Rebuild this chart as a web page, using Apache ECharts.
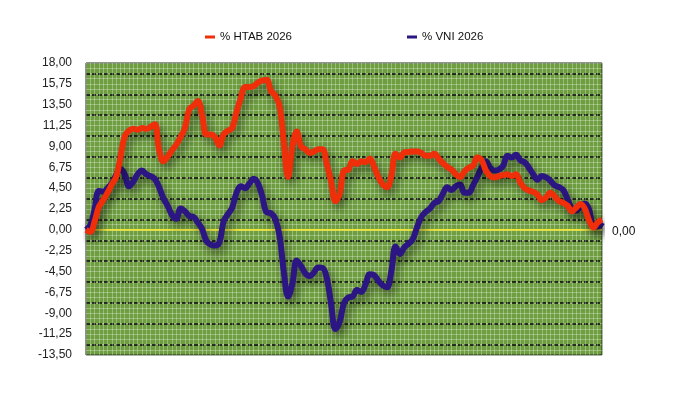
<!DOCTYPE html>
<html>
<head>
<meta charset="utf-8">
<script src="https://cdn.jsdelivr.net/npm/echarts@6/dist/echarts.min.js"></script>
<style>html,body{margin:0;padding:0;background:#fff}#c{width:690px;height:416px}</style>
</head>
<body>
<div id="c"></div>
<script>
const seriesNames = ['% HTAB 2026', '% VNI 2026'];
const htab = [0.0,-0.2,0.9,2.5,3.2,4.0,4.9,5.7,7.8,10.1,
  10.7,10.9,10.8,11.0,10.9,11.1,11.4,8.6,7.4,7.9,
  8.6,9.2,10.0,11.0,13.0,13.4,13.9,12.4,10.3,10.3,
  10.0,9.1,10.3,10.7,11.0,12.7,14.2,15.4,15.4,15.5,
  15.9,16.1,16.2,15.0,14.5,13.4,9.5,5.7,9.0,10.6,
  9.0,8.7,8.3,8.45,8.7,8.7,7.1,5.2,3.1,3.9,
  6.4,6.5,7.4,7.1,7.4,7.3,7.7,6.8,5.7,4.9,
  4.6,5.8,8.2,7.8,8.35,8.4,8.45,8.45,8.3,8.0,
  8.0,8.2,7.7,7.2,6.8,6.5,6.0,5.7,6.3,6.7,
  6.9,7.8,7.5,6.4,5.8,5.65,5.8,5.9,6.0,5.8,
  6.0,5.1,4.5,4.25,4.1,3.8,3.2,3.5,4.0,3.6,
  3.1,2.9,2.6,2.0,2.4,2.8,2.3,1.0,0.25,0.8,1.1];
const vni = [0.0,0.5,2.2,4.2,4.1,4.5,5.0,5.9,6.6,6.0,
  4.7,5.2,6.0,6.4,6.0,5.8,5.5,4.6,3.4,2.6,
  1.6,1.2,2.3,2.0,1.5,1.4,0.8,0.1,-1.2,-1.6,
  -1.7,-1.4,0.9,1.7,2.4,4.0,4.7,4.5,5.0,5.5,
  5.0,3.6,1.9,1.8,1.2,-0.6,-4.5,-7.2,-5.8,-3.3,
  -3.9,-4.7,-5.0,-4.6,-4.05,-4.1,-5.2,-8.0,-10.7,-9.9,
  -7.9,-7.3,-7.2,-6.5,-6.7,-5.9,-4.8,-4.9,-5.5,-6.0,
  -6.2,-4.5,-1.8,-2.6,-1.9,-1.5,-1.0,0.3,1.4,1.95,
  2.3,2.9,3.1,3.9,4.6,4.3,4.7,4.9,4.0,4.0,
  4.8,5.7,6.7,7.4,6.7,6.4,6.5,6.9,8.0,7.8,
  8.1,7.5,7.3,6.7,6.0,5.4,5.8,5.65,5.3,4.8,
  4.6,4.3,3.3,2.3,2.1,2.5,2.85,2.2,0.4,0.35,0.8];
const baseline = 0;
const yMin = -13.5, yMax = 18, yStep = 2.25;

const days = htab.map((_, i) => String(i));
const zeroLine = days.map(() => baseline);
const fmt = v => Number(v).toFixed(2).replace('.', ',');

const chart = echarts.init(document.getElementById('c'), null, {renderer: 'canvas'});
const FONT = 'Liberation Sans, Arial, sans-serif';
const WHITE = 'rgba(255,255,255,0.3)';
const option = {
  animation: false,
  backgroundColor: '#fff',
  textStyle: {fontFamily: FONT},
  legend: [
    {data: [seriesNames[0]], left: 200, top: 26, icon: 'rect', itemWidth: 10, itemHeight: 3,
     textStyle: {fontSize: 11.5, color: '#111', fontFamily: FONT}},
    {data: [seriesNames[1]], left: 402, top: 26, icon: 'rect', itemWidth: 10, itemHeight: 3,
     textStyle: {fontSize: 11.5, color: '#111', fontFamily: FONT}}
  ],
  grid: [
    {left: 86, right: 88, top: 63, bottom: 61, show: true, backgroundColor: '#6e9e40',
     borderColor: '#1c2a12', borderWidth: 1, containLabel: false},
    {left: 86, right: 88, top: 63 + 292 / 14 / 2, bottom: 61 + 292 / 14 / 2, show: false}
  ],
  xAxis: [
    {type: 'category', data: days, boundaryGap: false, gridIndex: 0,
     axisLine: {show: false}, axisTick: {show: false}, axisLabel: {show: false},
     splitLine: {show: true, interval: 0, lineStyle: {color: WHITE, width: 1}}},
    {type: 'category', data: days, boundaryGap: false, gridIndex: 1, show: false}
  ],
  yAxis: [
    {type: 'value', min: yMin, max: yMax, interval: yStep, gridIndex: 0,
     axisLine: {show: false}, axisTick: {show: false},
     axisLabel: {formatter: fmt, fontSize: 12, color: '#222', margin: 14, fontFamily: FONT},
     splitLine: {show: true, lineStyle: {color: WHITE, width: 1}},
     minorTick: {show: false, splitNumber: 4},
     minorSplitLine: {show: true, lineStyle: {color: WHITE, width: 1}}},
    {type: 'value', min: yMin + yStep / 2, max: yMax - yStep / 2, interval: yStep, gridIndex: 1,
     axisLine: {show: false}, axisTick: {show: false}, axisLabel: {show: false},
     splitLine: {show: true, lineStyle: {color: '#050505', width: 1.6, type: [4, 2]}}}
  ],
  series: [
    {name: 'zero', type: 'line', data: zeroLine, xAxisIndex: 0, yAxisIndex: 0, symbol: 'none',
     lineStyle: {color: '#f4e53a', width: 1.8}, z: 3, silent: true,
     endLabel: {show: true, formatter: p => fmt(p.value), fontSize: 12, color: '#111',
       fontFamily: FONT, distance: 10, offset: [0, 2]}},
    {name: seriesNames[1], type: 'line', data: vni, symbol: 'none', smooth: 0.4, z: 4,
     itemStyle: {color: '#2b1683'},
     lineStyle: {color: '#2b1683', width: 6, shadowColor: 'rgba(0,0,0,0.5)', shadowBlur: 10,
       shadowOffsetX: 3, shadowOffsetY: 5}},
    {name: seriesNames[0], type: 'line', data: htab, symbol: 'none', smooth: 0.4, z: 5,
     itemStyle: {color: '#ef2e0a'},
     lineStyle: {color: '#ef2e0a', width: 6, shadowColor: 'rgba(0,0,0,0.5)', shadowBlur: 10,
       shadowOffsetX: 3, shadowOffsetY: 5}}
  ]
};
chart.setOption(option);
</script>
</body>
</html>
